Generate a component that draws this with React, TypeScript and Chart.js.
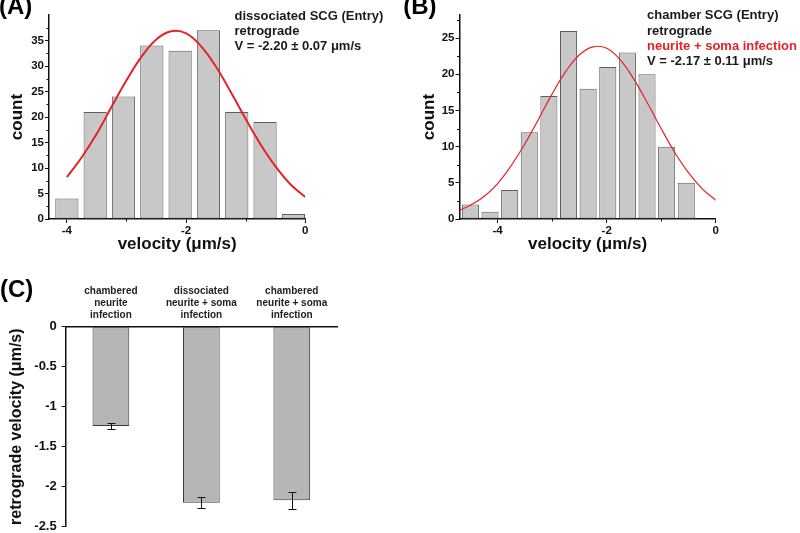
import React, { useEffect, useRef } from 'react';
import { Chart, registerables } from 'chart.js';

Chart.register(...registerables);

const FONT = "'Liberation Sans', Arial, Helvetica, sans-serif";
const INK = '#111111';
const RED = '#e3232b';

// ---------- Panel A : dissociated SCG ----------
const BIN_A = [-4.0, -3.525, -3.05, -2.575, -2.1, -1.625, -1.15, -0.675, -0.2];
const COUNT_A = [4, 21, 24, 34, 33, 37, 21, 19, 1];
const FIT_X_A = [-4.0, -3.75, -3.5, -3.25, -3.0, -2.75, -2.5, -2.25, -2.0, -1.75, -1.5, -1.25, -1.0, -0.75, -0.5, -0.25, 0];
const FIT_Y_A = [8.2, 12.1, 16.7, 22.0, 27.2, 31.8, 35.2, 36.8, 36.4, 33.9, 29.9, 24.9, 19.6, 14.6, 10.3, 6.8, 4.3];
const X_TICKS_A = [-4, -2, 0];
const X_MINOR_A = [-3, -1];
const Y_TICKS_A = [0, 5, 10, 15, 20, 25, 30, 35];
const Y_MINOR_A = [2.5, 7.5, 12.5, 17.5, 22.5, 27.5, 32.5, 37.5];
const NOTE_A = ['dissociated SCG (Entry)', 'retrograde', 'V = -2.20 ± 0.07 μm/s'];

// ---------- Panel B : chamber SCG ----------
const BIN_B = [-4.5, -4.14, -3.78, -3.42, -3.06, -2.7, -2.34, -1.98, -1.62, -1.26, -0.9, -0.54];
const COUNT_B = [2, 1, 4, 12, 17, 26, 18, 21, 23, 20, 10, 5];
const FIT_X_B = [-4.7, -4.5, -4.25, -4.0, -3.75, -3.5, -3.25, -3.0, -2.75, -2.5, -2.25, -2.0, -1.75, -1.5, -1.25, -1.0, -0.75, -0.5, -0.25, 0];
const FIT_Y_B = [1.2, 1.9, 3.1, 4.9, 7.4, 10.4, 13.8, 17.3, 20.4, 22.7, 23.8, 23.6, 22.0, 19.3, 16.0, 12.5, 9.2, 6.4, 4.2, 2.6];
const X_TICKS_B = [-4, -2, 0];
const X_MINOR_B = [-3, -1];
const Y_TICKS_B = [0, 5, 10, 15, 20, 25];
const Y_MINOR_B = [2.5, 7.5, 12.5, 17.5, 22.5, 27.5];
const NOTE_B = ['chamber SCG (Entry)', 'retrograde', 'neurite + soma infection', 'V = -2.17 ± 0.11 μm/s'];

// ---------- Panel C : mean retrograde velocity ----------
const GROUPS_C = [
  ['chambered', 'neurite', 'infection'],
  ['dissociated', 'neurite + soma', 'infection'],
  ['chambered', 'neurite + soma', 'infection'],
];
const MEAN_C = [-1.24, -2.2, -2.17];
const SEM_C = [0.04, 0.07, 0.11];
const Y_TICKS_C = [-2.5, -2, -1.5, -1, -0.5, 0];

const font = (size: number, lineHeight = 1.2) => ({ family: FONT, size, weight: 'bold' as const, lineHeight });

function minorTicksPlugin(xMinor: number[], yMinor: number[], len: number) {
  return {
    id: 'minorTicks',
    afterDraw(chart: any) {
      const { ctx } = chart;
      const xs = chart.scales.x;
      const ys = chart.scales.y;
      ctx.save();
      ctx.strokeStyle = INK;
      ctx.lineWidth = 1;
      ctx.beginPath();
      xMinor.forEach((v) => {
        const p = Math.round(xs.getPixelForValue(v)) + 0.5;
        ctx.moveTo(p, xs.top);
        ctx.lineTo(p, xs.top + len);
      });
      yMinor.forEach((v) => {
        const p = Math.round(ys.getPixelForValue(v)) + 0.5;
        ctx.moveTo(ys.right - len, p);
        ctx.lineTo(ys.right, p);
      });
      ctx.stroke();
      ctx.restore();
    },
  };
}

function errorBarsPlugin(errors: number[], cap: number) {
  return {
    id: 'errorBars',
    afterDatasetsDraw(chart: any) {
      const { ctx } = chart;
      const ys = chart.scales.y;
      const meta = chart.getDatasetMeta(0);
      const values = chart.data.datasets[0].data as number[];
      ctx.save();
      ctx.strokeStyle = INK;
      ctx.lineWidth = 1;
      ctx.beginPath();
      meta.data.forEach((bar: any, i: number) => {
        const x = Math.round(bar.x) + 0.5;
        const y1 = Math.round(ys.getPixelForValue(values[i] + errors[i])) + 0.5;
        const y2 = Math.round(ys.getPixelForValue(values[i] - errors[i])) + 0.5;
        ctx.moveTo(x, y1);
        ctx.lineTo(x, y2);
        ctx.moveTo(x - cap, y1);
        ctx.lineTo(x + cap, y1);
        ctx.moveTo(x - cap, y2);
        ctx.lineTo(x + cap, y2);
      });
      ctx.stroke();
      ctx.restore();
    },
  };
}

function histogram(o: any) {
  return {
    type: 'bar',
    data: {
      datasets: [
        {
          type: 'line',
          data: o.fitX.map((x: number, i: number) => ({ x, y: o.fitY[i] })),
          borderColor: RED,
          borderWidth: o.fitWidth,
          pointRadius: 0,
          tension: 0.4,
          fill: false,
          order: 0,
        },
        {
          type: 'bar',
          data: o.bins.map((x: number, i: number) => ({ x, y: o.counts[i] })),
          backgroundColor: '#c8c8c8',
          borderColor: '#5e5e5e',
          borderWidth: 1,
          borderSkipped: false,
          barPercentage: o.barPct,
          categoryPercentage: 1,
          order: 1,
        },
      ],
    },
    options: {
      responsive: false,
      animation: false,
      events: [],
      layout: { padding: { left: 0, top: 15, right: o.padRight, bottom: 0 } },
      plugins: { legend: { display: false }, tooltip: { enabled: false } },
      scales: {
        x: {
          type: 'linear',
          min: o.xMin,
          max: 0,
          offset: false,
          afterBuildTicks: (s: any) => {
            s.ticks = o.xTicks.map((v: number) => ({ value: v }));
          },
          afterFit: (s: any) => {
            s.height = 46;
          },
          grid: { display: true, drawOnChartArea: false, drawTicks: true, tickLength: 4, color: INK, offset: false },
          border: { display: true, color: INK, width: 1.5 },
          ticks: { font: font(11.5), color: INK, padding: 1, maxRotation: 0, autoSkip: false, callback: (v: any) => String(v) },
          title: { display: true, text: 'velocity (μm/s)', font: font(17), color: INK, padding: { top: 0, bottom: 10 } },
        },
        y: {
          type: 'linear',
          min: 0,
          max: o.yMax,
          afterBuildTicks: (s: any) => {
            s.ticks = o.yTicks.map((v: number) => ({ value: v }));
          },
          afterFit: (s: any) => {
            s.width = o.yAxisWidth;
          },
          grid: { display: true, drawOnChartArea: false, drawTicks: true, tickLength: 4, color: INK },
          border: { display: true, color: INK, width: 1.5 },
          ticks: { font: font(11.5), color: INK, padding: 1, autoSkip: false, callback: (v: any) => String(v) },
          title: { display: true, text: 'count', font: font(17), color: INK, padding: { top: o.yTitlePad, bottom: 0 } },
        },
      },
    },
    plugins: [minorTicksPlugin(o.xMinor, o.yMinor, 2.5)],
  };
}

const makeA = () =>
  histogram({
    bins: BIN_A, counts: COUNT_A, fitX: FIT_X_A, fitY: FIT_Y_A,
    xTicks: X_TICKS_A, xMinor: X_MINOR_A, yTicks: Y_TICKS_A, yMinor: Y_MINOR_A,
    xMin: -4.3, yMax: 40, yAxisWidth: 49, padRight: 94.7, barPct: 0.82, fitWidth: 2, yTitlePad: 7.2,
  });

const makeB = () =>
  histogram({
    bins: BIN_B, counts: COUNT_B, fitX: FIT_X_B, fitY: FIT_Y_B,
    xTicks: X_TICKS_B, xMinor: X_MINOR_B, yTicks: Y_TICKS_B, yMinor: Y_MINOR_B,
    xMin: -4.7, yMax: 28.2, yAxisWidth: 59.5, padRight: 84.3, barPct: 0.87, fitWidth: 1.2, yTitlePad: 18.9,
  });

const makeC = () => ({
  type: 'bar',
  data: {
    labels: GROUPS_C,
    datasets: [
      {
        data: MEAN_C,
        backgroundColor: '#b6b6b6',
        borderColor: '#3a3a3a',
        borderWidth: 1,
        borderSkipped: false,
        barPercentage: 0.406,
        categoryPercentage: 1,
      },
    ],
  },
  options: {
    responsive: false,
    animation: false,
    events: [],
    layout: { padding: { left: 0, top: 0, right: 63, bottom: 18.3 } },
    plugins: { legend: { display: false }, tooltip: { enabled: false } },
    scales: {
      x: {
        type: 'category',
        position: 'top',
        offset: true,
        afterFit: (s: any) => {
          s.height = 61.7;
        },
        grid: { display: true, drawOnChartArea: false, drawTicks: false, offset: true, color: INK },
        border: { display: true, color: INK, width: 1.5 },
        ticks: { font: font(10, 1.17), color: '#222222', padding: 6, maxRotation: 0, autoSkip: false },
      },
      y: {
        type: 'linear',
        min: -2.5,
        max: 0,
        afterBuildTicks: (s: any) => {
          s.ticks = Y_TICKS_C.map((v) => ({ value: v }));
        },
        afterFit: (s: any) => {
          s.width = 65.7;
        },
        grid: { display: true, drawOnChartArea: false, drawTicks: true, tickLength: 4, color: INK },
        border: { display: true, color: INK, width: 1.5 },
        ticks: { font: font(13), color: INK, padding: 5, autoSkip: false, callback: (v: any) => String(v) },
        title: { display: true, text: 'retrograde velocity (μm/s)', font: font(16), color: INK, padding: { top: 6.5, bottom: 0 } },
      },
    },
  },
  plugins: [errorBarsPlugin(SEM_C, 4)],
});

function ChartCanvas({ left, top, width, height, make }: any) {
  const ref = useRef<HTMLCanvasElement>(null);
  useEffect(() => {
    const chart = new Chart(ref.current as HTMLCanvasElement, make());
    return () => chart.destroy();
  }, []);
  return (
    <canvas
      ref={ref}
      width={width}
      height={height}
      style={{ position: 'absolute', left, top, width, height, display: 'block' }}
    />
  );
}

const textBase: any = {
  position: 'absolute',
  fontFamily: FONT,
  fontWeight: 700,
  whiteSpace: 'nowrap',
  color: '#1a1a1a',
};

export default function App() {
  return (
    <div
      style={{
        position: 'fixed',
        left: 0,
        top: 0,
        width: 800,
        height: 533,
        background: '#ffffff',
        overflow: 'hidden',
      }}
    >
      <ChartCanvas left={0} top={0} width={400} height={265} make={makeA} />
      <ChartCanvas left={400} top={0} width={400} height={265} make={makeB} />
      <ChartCanvas left={0} top={265} width={400} height={280} make={makeC} />

      <div style={{ ...textBase, left: -1, top: -6.2, fontSize: 24, lineHeight: 1, color: '#000' }}>(A)</div>
      <div style={{ ...textBase, left: 403.3, top: -6.2, fontSize: 24, lineHeight: 1, color: '#000' }}>(B)</div>
      <div style={{ ...textBase, left: 0, top: 277.2, fontSize: 24, lineHeight: 1, color: '#000' }}>(C)</div>

      <div style={{ ...textBase, left: 234.5, top: 7.8, fontSize: 13, lineHeight: '15.3px' }}>
        {NOTE_A.map((t) => (
          <div key={t}>{t}</div>
        ))}
      </div>
      <div style={{ ...textBase, left: 647, top: 7.3, fontSize: 13, lineHeight: '15.3px' }}>
        {NOTE_B.map((t, i) => (
          <div key={t} style={{ color: i === 2 ? RED : '#1a1a1a' }}>
            {t}
          </div>
        ))}
      </div>
    </div>
  );
}
